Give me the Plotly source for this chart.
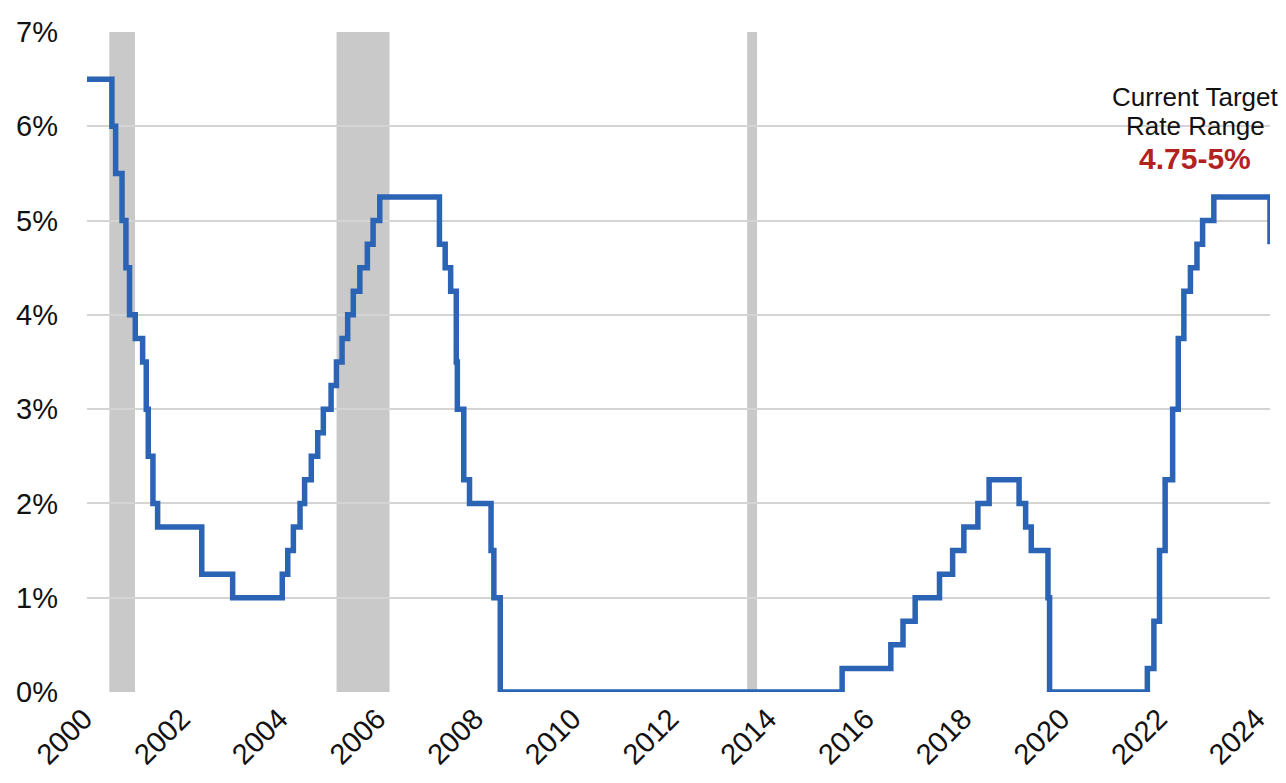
import plotly.graph_objects as go

# Fed funds target rate (lower bound), step changes
change_dates = [
    "2000-07-01", "2001-01-03", "2001-01-31", "2001-03-20", "2001-04-18", "2001-05-15",
    "2001-06-27", "2001-08-21", "2001-09-17", "2001-10-02", "2001-11-06", "2001-12-11",
    "2002-11-06", "2003-06-25", "2004-06-30", "2004-08-10", "2004-09-21", "2004-11-10",
    "2004-12-14", "2005-02-02", "2005-03-22", "2005-05-03", "2005-06-30", "2005-08-09",
    "2005-09-20", "2005-11-01", "2005-12-13", "2006-01-31", "2006-03-28", "2006-05-10",
    "2006-06-29", "2007-09-18", "2007-10-31", "2007-12-11", "2008-01-22", "2008-01-30",
    "2008-03-18", "2008-04-30", "2008-10-08", "2008-10-29", "2008-12-16", "2015-12-16",
    "2016-12-14", "2017-03-15", "2017-06-14", "2017-12-13", "2018-03-21", "2018-06-13",
    "2018-09-26", "2018-12-19", "2019-07-31", "2019-09-18", "2019-10-30", "2020-03-03",
    "2020-03-15", "2022-03-16", "2022-05-04", "2022-06-15", "2022-07-27", "2022-09-21",
    "2022-11-02", "2022-12-14", "2023-02-01", "2023-03-22", "2023-05-03", "2023-07-26",
    "2024-09-18",
]
rates = [
    6.50, 6.00, 5.50, 5.00, 4.50, 4.00,
    3.75, 3.50, 3.00, 2.50, 2.00, 1.75,
    1.25, 1.00, 1.25, 1.50, 1.75, 2.00,
    2.25, 2.50, 2.75, 3.00, 3.25, 3.50,
    3.75, 4.00, 4.25, 4.50, 4.75, 5.00,
    5.25, 4.75, 4.50, 4.25, 3.50, 3.00,
    2.25, 2.00, 1.50, 1.00, 0.00, 0.25,
    0.50, 0.75, 1.00, 1.25, 1.50, 1.75,
    2.00, 2.25, 2.00, 1.75, 1.50, 1.00,
    0.00, 0.25, 0.75, 1.50, 2.25, 3.00,
    3.75, 4.25, 4.50, 4.75, 5.00, 5.25,
    4.75,
]

# shaded periods
band_starts = ["2000-12-15", "2005-08-10", "2014-01-05"]
band_ends = ["2001-06-25", "2006-09-10", "2014-03-20"]

year_labels = ["2000", "2002", "2004", "2006", "2008", "2010", "2012",
               "2014", "2016", "2018", "2020", "2022", "2024"]
y_ticks = [0, 1, 2, 3, 4, 5, 6, 7]
y_tick_text = ["0%", "1%", "2%", "3%", "4%", "5%", "6%", "7%"]

annot_lines = ["Current Target", "Rate Range"]
annot_value = "4.75-5%"

FONT = "Arial, Liberation Sans, sans-serif"

fig = go.Figure()
fig.add_trace(go.Scatter(
    x=change_dates, y=rates, mode="lines",
    line=dict(color="#2b63b5", width=5.5, shape="hv"),
    hoverinfo="x+y", showlegend=False,
))

for s, e in zip(band_starts, band_ends):
    fig.add_shape(type="rect", xref="x", yref="y", x0=s, x1=e, y0=0, y1=7,
                  fillcolor="#c9c9c9", line_width=0, layer="below")

for txt, yy in zip(annot_lines, [6.31, 6.0]):
    fig.add_annotation(x=0.937, xref="paper", y=yy, yref="y", text=txt,
                       showarrow=False, xanchor="center", yanchor="middle",
                       font=dict(family=FONT, size=26, color="#111111"))
fig.add_annotation(x=0.937, xref="paper", y=5.66, yref="y", text="<b>" + annot_value + "</b>",
                   showarrow=False, xanchor="center", yanchor="middle",
                   font=dict(family=FONT, size=30, color="#b22222"))

# page body has an 8px default margin; figure sized to fit the window inside it
fig.update_layout(
    width=1270, height=767,
    margin=dict(l=79, r=8, t=24, b=83),
    paper_bgcolor="white", plot_bgcolor="white",
    font=dict(family=FONT, color="#111111"),
)
fig.update_xaxes(
    type="date", range=["2000-07-01", "2024-09-18"], automargin=False,
    tickvals=[f"{y}-07-01" for y in year_labels], ticktext=year_labels,
    tickangle=-45, tickfont=dict(size=29, family=FONT, color="#111111"),
    ticklabelstandoff=3, ticklabelshift=-3,
    showgrid=False, zeroline=False, showline=False, ticks="",
)
fig.update_yaxes(
    range=[0, 7], tickvals=y_ticks, ticktext=y_tick_text, automargin=False,
    tickfont=dict(size=29, family=FONT, color="#111111"),
    showgrid=True, gridcolor="#d4d4d4", gridwidth=2, zeroline=False,
    ticklabelstandoff=28,
)

fig.write_html("out.html")
